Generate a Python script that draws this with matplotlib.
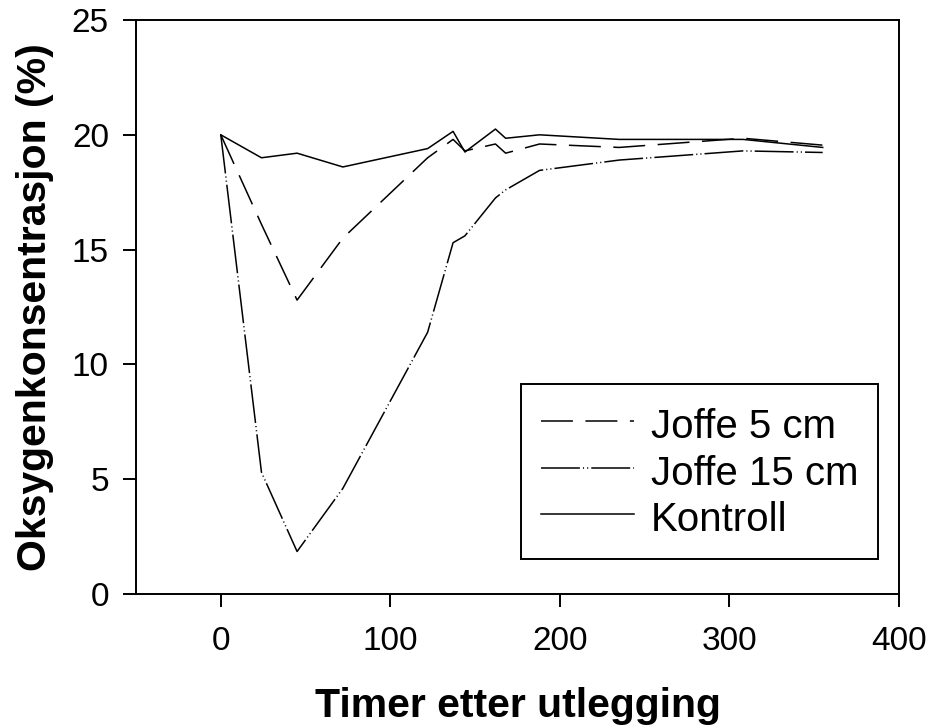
import matplotlib
matplotlib.use("Agg")
import matplotlib.pyplot as plt

plt.rcParams['font.family'] = ['Liberation Sans', 'DejaVu Sans']
plt.rcParams['lines.scale_dashes'] = False

# Data
hours = [0, 24, 45, 72, 122, 137, 144, 162, 168, 188, 235, 308, 355]
joffe5 = [20.0, 16.1, 12.8, 15.5, 19.0, 19.8, 19.3, 19.6, 19.2, 19.6, 19.45, 19.85, 19.55]
joffe15 = [20.0, 5.3, 1.85, 4.6, 11.4, 15.3, 15.6, 17.25, 17.6, 18.45, 18.9, 19.3, 19.23]
kontroll = [20.0, 19.0, 19.2, 18.6, 19.4, 20.15, 19.25, 20.25, 19.85, 20.0, 19.8, 19.8, 19.45]

labels = ['Joffe 5 cm', 'Joffe 15 cm', 'Kontroll']
xticks = [0, 100, 200, 300, 400]
yticks = [0, 5, 10, 15, 20, 25]

fig = plt.figure(figsize=(9.29, 7.28), dpi=100)
ax = fig.add_axes([0.1464, 0.1841, 0.8213, 0.7884])

lw = 1.1
ax.plot(hours, joffe5, color='black', lw=lw, dashes=(23, 9), label=labels[0])
ax.plot(hours, joffe15, color='black', lw=lw, dashes=(28, 2.2, 0.8, 2.2, 0.8, 2.2), label=labels[1])
ax.plot(hours, kontroll, color='black', lw=lw, label=labels[2])

ax.set_xlim(-50, 400)
ax.set_ylim(0, 25)
ax.set_xticks(xticks)
ax.set_yticks(yticks)
ax.tick_params(direction='out', length=9.5, width=1.4, labelsize=24)
ax.tick_params(axis='x', pad=13.5)
ax.tick_params(axis='y', pad=10)
for s in ax.spines.values():
    s.set_linewidth(1.4)

ax.set_xlabel('Timer etter utlegging', fontsize=29.5, fontweight='bold', labelpad=22)
ax.set_ylabel('Oksygenkonsentrasjon (%)', fontsize=29.5, fontweight='bold', labelpad=13)

leg = ax.legend(loc='upper left', bbox_to_anchor=(0.5046, 0.3659), borderaxespad=0,
                fontsize=29, frameon=True, fancybox=False, shadow=False,
                handlelength=2.3, handletextpad=0.42, labelspacing=0.11,
                handleheight=1.18, borderpad=0.5)
frame = leg.get_frame()
frame.set_edgecolor('black')
frame.set_linewidth(1.4)
frame.set_alpha(1)

fig.savefig('out.png', dpi=100)
